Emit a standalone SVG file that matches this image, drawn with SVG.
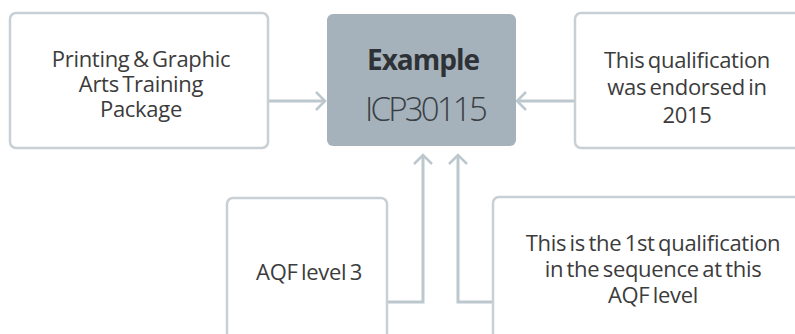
<svg xmlns="http://www.w3.org/2000/svg" width="795" height="334" viewBox="0 0 795 334">
<style>
.box{fill:#ffffff;stroke:#c9d0d5;stroke-width:2.5}
.main{fill:#a5b2bb;stroke:none}
.t{font-family:"Open Sans","Noto Sans",sans-serif;font-size:22px;fill:#3c3c3c;text-anchor:middle;letter-spacing:-0.3px;word-spacing:-2px}
.c{fill:none;stroke:#bcc7ce;stroke-width:3}
.ah{fill:none;stroke:#bcc7ce;stroke-width:2.5;stroke-linejoin:miter}
</style>
<rect width="795" height="334" fill="#ffffff"/>
<g id="connectors">
<path class="c" d="M268 101 H323"/>
<path class="ah" d="M316 92 L325 101 L316 110"/>
<path class="c" d="M575 101 H519"/>
<path class="ah" d="M526 92 L517 101 L526 110"/>
<path class="c" d="M387 302 H423 V157"/>
<path class="ah" d="M414 164 L423 155 L432 164"/>
<path class="c" d="M493 302 H458 V157"/>
<path class="ah" d="M449 164 L458 155 L467 164"/>
</g>
<g id="node-package">
<rect class="box" x="10" y="13" width="258" height="135" rx="6"/>
<text class="t" x="141" y="67">Printing &amp; Graphic</text>
<text class="t" x="141" y="92">Arts Training</text>
<text class="t" x="141" y="117">Package</text>
</g>
<g id="node-example">
<rect class="main" x="327" y="14" width="189" height="132" rx="6"/>
<text x="423" y="70" font-family="'Open Sans','Noto Sans',sans-serif" font-size="28" font-weight="bold" fill="#2e3236" text-anchor="middle" letter-spacing="-1">Example</text>
<text x="425" y="121" font-family="'Open Sans','Noto Sans',sans-serif" font-size="33" font-weight="300" fill="#3a3f44" text-anchor="middle" letter-spacing="-2.8">ICP30115</text>
</g>
<g id="node-endorsed">
<rect class="box" x="575" y="13" width="240" height="135" rx="6"/>
<text class="t" x="687" y="68">This qualification</text>
<text class="t" x="687" y="95">was endorsed in</text>
<text class="t" x="687" y="123">2015</text>
</g>
<g id="node-aqf">
<rect class="box" x="227" y="198" width="160" height="160" rx="6"/>
<text class="t" x="309" y="280">AQF level 3</text>
</g>
<g id="node-sequence">
<rect class="box" x="493" y="197" width="320" height="160" rx="6"/>
<text class="t" x="653" y="251">This is the 1st qualification</text>
<text class="t" x="653" y="277">in the sequence at this</text>
<text class="t" x="653" y="303">AQF level</text>
</g>
</svg>
